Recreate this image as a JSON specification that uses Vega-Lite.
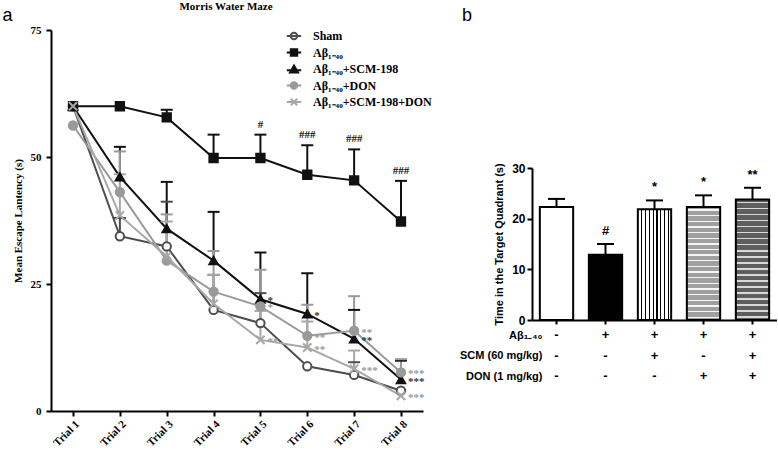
{
  "$schema": "https://vega.github.io/schema/vega-lite/v6.json",
  "padding": {"left": 2, "top": 1, "right": 0, "bottom": 0},
  "config": {
    "view": {"stroke": null},
    "axis": {"grid": false, "domainColor": "#000", "domainWidth": 2, "tickColor": "#000", "tickWidth": 2, "labelColor": "#000", "titleColor": "#000"}
  },
  "spacing": 27,
  "hconcat": [
    {
      "width": 372,
      "height": 381,
      "title": {"text": "Morris Water Maze", "font": "Liberation Serif", "fontSize": 11, "fontWeight": "bold", "anchor": "middle", "offset": -6, "dx": -11},
      "data": {
        "values": [
          {"group": "Sham", "trial": "Trial 1", "mean": 60, "upper": null, "sig": null},
          {"group": "Sham", "trial": "Trial 2", "mean": 34.4, "upper": 38.0, "sig": null},
          {"group": "Sham", "trial": "Trial 3", "mean": 32.4, "upper": 41.2, "sig": null},
          {"group": "Sham", "trial": "Trial 4", "mean": 19.9, "upper": 26.8, "sig": null},
          {"group": "Sham", "trial": "Trial 5", "mean": 17.3, "upper": 23.2, "sig": null},
          {"group": "Sham", "trial": "Trial 6", "mean": 8.8, "upper": null, "sig": null},
          {"group": "Sham", "trial": "Trial 7", "mean": 7.1, "upper": 9.6, "sig": null},
          {"group": "Sham", "trial": "Trial 8", "mean": 4.0, "upper": null, "sig": null},
          {"group": "Aβ₁₋₄₀", "trial": "Trial 1", "mean": 60, "upper": null, "sig": null},
          {"group": "Aβ₁₋₄₀", "trial": "Trial 2", "mean": 60, "upper": null, "sig": null},
          {"group": "Aβ₁₋₄₀", "trial": "Trial 3", "mean": 57.8, "upper": 59.3, "sig": null},
          {"group": "Aβ₁₋₄₀", "trial": "Trial 4", "mean": 49.8, "upper": 54.4, "sig": null},
          {"group": "Aβ₁₋₄₀", "trial": "Trial 5", "mean": 49.8, "upper": 54.4, "sig": "#"},
          {"group": "Aβ₁₋₄₀", "trial": "Trial 6", "mean": 46.5, "upper": 52.3, "sig": "###"},
          {"group": "Aβ₁₋₄₀", "trial": "Trial 7", "mean": 45.4, "upper": 51.5, "sig": "###"},
          {"group": "Aβ₁₋₄₀", "trial": "Trial 8", "mean": 37.3, "upper": 45.3, "sig": "###"},
          {"group": "Aβ₁₋₄₀+SCM-198", "trial": "Trial 1", "mean": 60, "upper": null, "sig": null},
          {"group": "Aβ₁₋₄₀+SCM-198", "trial": "Trial 2", "mean": 46.1, "upper": 52.0, "sig": null},
          {"group": "Aβ₁₋₄₀+SCM-198", "trial": "Trial 3", "mean": 35.9, "upper": 45.1, "sig": null},
          {"group": "Aβ₁₋₄₀+SCM-198", "trial": "Trial 4", "mean": 29.6, "upper": 39.2, "sig": null},
          {"group": "Aβ₁₋₄₀+SCM-198", "trial": "Trial 5", "mean": 22.0, "upper": 31.2, "sig": "*"},
          {"group": "Aβ₁₋₄₀+SCM-198", "trial": "Trial 6", "mean": 19.1, "upper": 27.1, "sig": "*"},
          {"group": "Aβ₁₋₄₀+SCM-198", "trial": "Trial 7", "mean": 14.2, "upper": 19.9, "sig": "**"},
          {"group": "Aβ₁₋₄₀+SCM-198", "trial": "Trial 8", "mean": 6.2, "upper": 9.9, "sig": "***"},
          {"group": "Aβ₁₋₄₀+DON", "trial": "Trial 1", "mean": 56.2, "upper": null, "sig": null},
          {"group": "Aβ₁₋₄₀+DON", "trial": "Trial 2", "mean": 43.1, "upper": 51.1, "sig": null},
          {"group": "Aβ₁₋₄₀+DON", "trial": "Trial 3", "mean": 29.6, "upper": 38.7, "sig": null},
          {"group": "Aβ₁₋₄₀+DON", "trial": "Trial 4", "mean": 23.5, "upper": 31.5, "sig": null},
          {"group": "Aβ₁₋₄₀+DON", "trial": "Trial 5", "mean": 20.6, "upper": 27.8, "sig": "*"},
          {"group": "Aβ₁₋₄₀+DON", "trial": "Trial 6", "mean": 14.8, "upper": 20.9, "sig": "**"},
          {"group": "Aβ₁₋₄₀+DON", "trial": "Trial 7", "mean": 15.8, "upper": 22.6, "sig": "**"},
          {"group": "Aβ₁₋₄₀+DON", "trial": "Trial 8", "mean": 7.6, "upper": 10.2, "sig": "***"},
          {"group": "Aβ₁₋₄₀+SCM-198+DON", "trial": "Trial 1", "mean": 60, "upper": null, "sig": null},
          {"group": "Aβ₁₋₄₀+SCM-198+DON", "trial": "Trial 2", "mean": 38.5, "upper": 46.6, "sig": null},
          {"group": "Aβ₁₋₄₀+SCM-198+DON", "trial": "Trial 3", "mean": 30.4, "upper": 37.3, "sig": null},
          {"group": "Aβ₁₋₄₀+SCM-198+DON", "trial": "Trial 4", "mean": 21.1, "upper": 26.8, "sig": null},
          {"group": "Aβ₁₋₄₀+SCM-198+DON", "trial": "Trial 5", "mean": 14.0, "upper": 19.7, "sig": "**"},
          {"group": "Aβ₁₋₄₀+SCM-198+DON", "trial": "Trial 6", "mean": 12.5, "upper": 17.6, "sig": "**"},
          {"group": "Aβ₁₋₄₀+SCM-198+DON", "trial": "Trial 7", "mean": 8.3, "upper": 11.9, "sig": "***"},
          {"group": "Aβ₁₋₄₀+SCM-198+DON", "trial": "Trial 8", "mean": 3.0, "upper": null, "sig": "***"}
        ]
      },
      "resolve": {"scale": {"shape": "independent", "fill": "independent", "stroke": "independent"}, "axis": {"x": "independent"}},
      "layer": [
        {
          "mark": {"type": "line", "strokeWidth": 2},
          "encoding": {
            "x": {"field": "trial", "type": "ordinal", "scale": {"type": "point", "padding": 0.47},
              "axis": {"title": null, "labelAngle": -45, "labelFont": "Liberation Serif", "labelFontSize": 11, "labelFontWeight": "bold", "tickSize": 5, "labelPadding": 2}},
            "y": {"field": "mean", "type": "quantitative", "scale": {"domain": [0, 75], "nice": false},
              "axis": {"values": [0, 25, 50, 75], "title": "Mean Escape Lantency (s)", "titleFont": "Liberation Serif", "titleFontSize": 11, "titleFontWeight": "bold", "labelFont": "Liberation Serif", "labelFontSize": 11, "labelFontWeight": "bold", "tickSize": 5, "labelPadding": 5, "titlePadding": 7}},
            "color": {"field": "group", "type": "nominal",
              "scale": {"domain": ["Sham", "Aβ₁₋₄₀", "Aβ₁₋₄₀+SCM-198", "Aβ₁₋₄₀+DON", "Aβ₁₋₄₀+SCM-198+DON"], "range": ["#4d4d4d", "#111111", "#111111", "#9a9a9a", "#a8a8a8"]},
              "legend": null}
          }
        },
        {
          "transform": [{"filter": "datum.upper != null"}],
          "mark": {"type": "rule", "strokeWidth": 2},
          "encoding": {
            "x": {"field": "trial", "type": "ordinal", "axis": null},
            "y": {"field": "mean", "type": "quantitative"},
            "y2": {"field": "upper"},
            "color": {"field": "group", "type": "nominal", "legend": null}
          }
        },
        {
          "transform": [{"filter": "datum.upper != null"}],
          "mark": {"type": "tick", "thickness": 2, "size": 12, "opacity": 1},
          "encoding": {
            "x": {"field": "trial", "type": "ordinal", "axis": null},
            "y": {"field": "upper", "type": "quantitative"},
            "color": {"field": "group", "type": "nominal", "legend": null}
          }
        },
        {
          "mark": {"type": "point", "size": 70, "strokeWidth": 2, "opacity": 1},
          "encoding": {
            "x": {"field": "trial", "type": "ordinal", "axis": null},
            "y": {"field": "mean", "type": "quantitative"},
            "shape": {"field": "group", "type": "nominal", "legend": null,
              "scale": {"domain": ["Sham", "Aβ₁₋₄₀", "Aβ₁₋₄₀+SCM-198", "Aβ₁₋₄₀+DON", "Aβ₁₋₄₀+SCM-198+DON"], "range": ["circle", "square", "triangle-up", "circle", "M-1,-1L1,1M-1,1L1,-1"]}},
            "fill": {"field": "group", "type": "nominal", "legend": null,
              "scale": {"domain": ["Sham", "Aβ₁₋₄₀", "Aβ₁₋₄₀+SCM-198", "Aβ₁₋₄₀+DON", "Aβ₁₋₄₀+SCM-198+DON"], "range": ["#ffffff", "#111111", "#111111", "#9a9a9a", "#a8a8a8"]}},
            "stroke": {"field": "group", "type": "nominal", "legend": null,
              "scale": {"domain": ["Sham", "Aβ₁₋₄₀", "Aβ₁₋₄₀+SCM-198", "Aβ₁₋₄₀+DON", "Aβ₁₋₄₀+SCM-198+DON"], "range": ["#4d4d4d", "#111111", "#111111", "#9a9a9a", "#a8a8a8"]}}
          }
        },
        {
          "transform": [{"filter": "datum.sig != null && datum.group == 'Aβ₁₋₄₀+SCM-198'"}],
          "mark": {"type": "text", "align": "left", "baseline": "middle", "dx": 7, "dy": 2, "font": "Liberation Serif", "fontSize": 11, "fontWeight": "bold", "fill": "#333333"},
          "encoding": {
            "x": {"field": "trial", "type": "ordinal", "axis": null},
            "y": {"field": "mean", "type": "quantitative"},
            "text": {"field": "sig"}
          }
        },
        {
          "transform": [{"filter": "datum.sig != null && (datum.group == 'Aβ₁₋₄₀+DON' || datum.group == 'Aβ₁₋₄₀+SCM-198+DON')"}],
          "mark": {"type": "text", "align": "left", "baseline": "middle", "dx": 7, "dy": 2, "font": "Liberation Serif", "fontSize": 11, "fontWeight": "bold", "fill": "#999999"},
          "encoding": {
            "x": {"field": "trial", "type": "ordinal", "axis": null},
            "y": {"field": "mean", "type": "quantitative"},
            "text": {"field": "sig"}
          }
        },
        {
          "transform": [{"filter": "datum.sig != null && datum.group == 'Aβ₁₋₄₀'"}],
          "mark": {"type": "text", "align": "center", "baseline": "alphabetic", "dy": -7, "font": "Liberation Serif", "fontSize": 11, "fontWeight": "bold", "fill": "#111111"},
          "encoding": {
            "x": {"field": "trial", "type": "ordinal", "axis": null},
            "y": {"field": "upper", "type": "quantitative"},
            "text": {"field": "sig"}
          }
        },
        {
          "transform": [{"filter": "false"}],
          "mark": {"type": "point", "size": 64, "strokeWidth": 2, "opacity": 1},
          "encoding": {
            "x": {"field": "trial", "type": "ordinal",
              "axis": {"orient": "top", "labels": false, "ticks": false, "domain": false, "title": "a", "titleAnchor": "start", "titleAlign": "left", "titleBaseline": "alphabetic", "titleX": -49, "titleY": -10, "titleFont": "Liberation Sans", "titleFontSize": 18, "titleFontWeight": "normal"}},
            "y": {"field": "mean", "type": "quantitative"},
            "shape": {"field": "group", "type": "nominal",
              "scale": {"domain": ["Sham", "Aβ₁₋₄₀", "Aβ₁₋₄₀+SCM-198", "Aβ₁₋₄₀+DON", "Aβ₁₋₄₀+SCM-198+DON"],
                "range": [
                  "M-1.8,0L1.8,0M-0.8,0A0.8,0.8,0,1,1,0.8,0A0.8,0.8,0,1,1,-0.8,0",
                  "M-1.8,0L1.8,0M-0.8,-0.8L0.8,-0.8L0.8,0.8L-0.8,0.8Z",
                  "M-1.8,0.3L1.8,0.3M-1,0.85L0,-0.9L1,0.85Z",
                  "M-1.8,0L1.8,0M-0.8,0A0.8,0.8,0,1,1,0.8,0A0.8,0.8,0,1,1,-0.8,0",
                  "M-1.8,0L1.8,0M-0.8,-0.8L0.8,0.8M-0.8,0.8L0.8,-0.8"
                ]},
              "legend": {"title": null, "orient": "none", "legendX": 237, "legendY": 0, "padding": 0, "rowPadding": 0.5, "labelOffset": 13, "symbolSize": 64, "symbolStrokeWidth": 2, "labelFont": "Liberation Serif", "labelFontSize": 12, "labelFontWeight": "bold", "labelColor": "#000"}},
            "fill": {"field": "group", "type": "nominal",
              "scale": {"domain": ["Sham", "Aβ₁₋₄₀", "Aβ₁₋₄₀+SCM-198", "Aβ₁₋₄₀+DON", "Aβ₁₋₄₀+SCM-198+DON"], "range": ["#ffffff", "#111111", "#111111", "#9a9a9a", "#a8a8a8"]},
              "legend": {"title": null, "orient": "none", "legendX": 237, "legendY": 0, "padding": 0, "rowPadding": 0.5, "labelOffset": 13, "symbolSize": 64, "symbolStrokeWidth": 2, "labelFont": "Liberation Serif", "labelFontSize": 12, "labelFontWeight": "bold", "labelColor": "#000"}},
            "stroke": {"field": "group", "type": "nominal",
              "scale": {"domain": ["Sham", "Aβ₁₋₄₀", "Aβ₁₋₄₀+SCM-198", "Aβ₁₋₄₀+DON", "Aβ₁₋₄₀+SCM-198+DON"], "range": ["#4d4d4d", "#111111", "#111111", "#9a9a9a", "#a8a8a8"]},
              "legend": {"title": null, "orient": "none", "legendX": 237, "legendY": 0, "padding": 0, "rowPadding": 0.5, "labelOffset": 13, "symbolSize": 64, "symbolStrokeWidth": 2, "labelFont": "Liberation Serif", "labelFontSize": 12, "labelFontWeight": "bold", "labelColor": "#000"}}
          }
        }
      ]
    },
    {
      "spacing": 3,
      "vconcat": [
        {
          "width": 245,
          "height": 129,
          "title": {"text": "b", "anchor": "start", "font": "Liberation Sans", "fontSize": 18, "fontWeight": "normal", "offset": 5, "dx": -70},
          "data": {"values": []},
          "mark": {"type": "point"},
          "encoding": {}
        },
        {
          "width": 245,
          "height": 152,
          "data": {
            "values": [
              {"grp": "1", "value": 22.3, "upper": 23.9, "sig": ""},
              {"grp": "2", "value": 12.9, "upper": 15.0, "sig": "#"},
              {"grp": "3", "value": 21.85, "upper": 23.6, "sig": "*"},
              {"grp": "4", "value": 22.3, "upper": 24.6, "sig": "*"},
              {"grp": "5", "value": 23.8, "upper": 26.1, "sig": "**"}
            ]
          },
          "layer": [
            {
              "transform": [{"filter": "datum.grp == '1' || datum.grp == '2'"}],
              "mark": {"type": "bar", "stroke": "#000", "strokeWidth": 2},
              "encoding": {
                "x": {"field": "grp", "type": "nominal", "scale": {"domain": ["1", "2", "3", "4", "5"], "paddingInner": 0.32, "paddingOuter": 0.16},
                  "axis": {"title": null, "labels": false, "tickSize": 4}},
                "y": {"field": "value", "type": "quantitative", "scale": {"domain": [0, 30], "nice": false},
                  "axis": {"values": [0, 10, 20, 30], "title": "Time in the Target Quadrant (s)", "titleFont": "Liberation Sans", "titleFontSize": 11, "titleFontWeight": "bold", "labelFont": "Liberation Sans", "labelFontSize": 12, "labelFontWeight": "bold", "tickSize": 5, "labelPadding": 2, "titlePadding": 7}},
                "fill": {"field": "grp", "type": "nominal", "scale": {"domain": ["1", "2"], "range": ["#ffffff", "#000000"]}, "legend": null}
              }
            },
            {
              "transform": [{"filter": "datum.grp == '3'"}],
              "mark": {"type": "bar", "stroke": "#000", "strokeWidth": 2,
                "fill": {"gradient": "linear", "x1": 0, "y1": 0, "x2": 1, "y2": 0, "stops": [
                  {"offset": 0, "color": "#ffffff"},
                  {"offset": 0.1, "color": "#ffffff"}, {"offset": 0.1, "color": "#000000"}, {"offset": 0.135, "color": "#000000"}, {"offset": 0.135, "color": "#ffffff"},
                  {"offset": 0.215, "color": "#ffffff"}, {"offset": 0.215, "color": "#000000"}, {"offset": 0.25, "color": "#000000"}, {"offset": 0.25, "color": "#ffffff"},
                  {"offset": 0.33, "color": "#ffffff"}, {"offset": 0.33, "color": "#000000"}, {"offset": 0.365, "color": "#000000"}, {"offset": 0.365, "color": "#ffffff"},
                  {"offset": 0.445, "color": "#ffffff"}, {"offset": 0.445, "color": "#000000"}, {"offset": 0.48, "color": "#000000"}, {"offset": 0.48, "color": "#ffffff"},
                  {"offset": 0.56, "color": "#ffffff"}, {"offset": 0.56, "color": "#000000"}, {"offset": 0.595, "color": "#000000"}, {"offset": 0.595, "color": "#ffffff"},
                  {"offset": 0.675, "color": "#ffffff"}, {"offset": 0.675, "color": "#000000"}, {"offset": 0.71, "color": "#000000"}, {"offset": 0.71, "color": "#ffffff"},
                  {"offset": 0.79, "color": "#ffffff"}, {"offset": 0.79, "color": "#000000"}, {"offset": 0.825, "color": "#000000"}, {"offset": 0.825, "color": "#ffffff"},
                  {"offset": 0.905, "color": "#ffffff"}, {"offset": 0.905, "color": "#000000"}, {"offset": 0.94, "color": "#000000"}, {"offset": 0.94, "color": "#ffffff"},
                  {"offset": 1, "color": "#ffffff"}
                ]}},
              "encoding": {
                "x": {"field": "grp", "type": "nominal"},
                "y": {"field": "value", "type": "quantitative"}
              }
            },
            {
              "transform": [{"filter": "datum.grp == '4'"}],
              "mark": {"type": "bar", "stroke": "#000", "strokeWidth": 2,
                "fill": {"gradient": "linear", "x1": 0, "y1": 0, "x2": 0, "y2": 1, "stops": [
                  {"offset": 0, "color": "#a0a0a0"},
                  {"offset": 0.02, "color": "#a0a0a0"}, {"offset": 0.02, "color": "#f5f5f5"}, {"offset": 0.032, "color": "#f5f5f5"}, {"offset": 0.032, "color": "#a0a0a0"},
                  {"offset": 0.07, "color": "#a0a0a0"}, {"offset": 0.07, "color": "#f5f5f5"}, {"offset": 0.082, "color": "#f5f5f5"}, {"offset": 0.082, "color": "#a0a0a0"},
                  {"offset": 0.12, "color": "#a0a0a0"}, {"offset": 0.12, "color": "#f5f5f5"}, {"offset": 0.132, "color": "#f5f5f5"}, {"offset": 0.132, "color": "#a0a0a0"},
                  {"offset": 0.17, "color": "#a0a0a0"}, {"offset": 0.17, "color": "#f5f5f5"}, {"offset": 0.182, "color": "#f5f5f5"}, {"offset": 0.182, "color": "#a0a0a0"},
                  {"offset": 0.22, "color": "#a0a0a0"}, {"offset": 0.22, "color": "#f5f5f5"}, {"offset": 0.232, "color": "#f5f5f5"}, {"offset": 0.232, "color": "#a0a0a0"},
                  {"offset": 0.27, "color": "#a0a0a0"}, {"offset": 0.27, "color": "#f5f5f5"}, {"offset": 0.282, "color": "#f5f5f5"}, {"offset": 0.282, "color": "#a0a0a0"},
                  {"offset": 0.32, "color": "#a0a0a0"}, {"offset": 0.32, "color": "#f5f5f5"}, {"offset": 0.332, "color": "#f5f5f5"}, {"offset": 0.332, "color": "#a0a0a0"},
                  {"offset": 0.37, "color": "#a0a0a0"}, {"offset": 0.37, "color": "#f5f5f5"}, {"offset": 0.382, "color": "#f5f5f5"}, {"offset": 0.382, "color": "#a0a0a0"},
                  {"offset": 0.42, "color": "#a0a0a0"}, {"offset": 0.42, "color": "#f5f5f5"}, {"offset": 0.432, "color": "#f5f5f5"}, {"offset": 0.432, "color": "#a0a0a0"},
                  {"offset": 0.47, "color": "#a0a0a0"}, {"offset": 0.47, "color": "#f5f5f5"}, {"offset": 0.482, "color": "#f5f5f5"}, {"offset": 0.482, "color": "#a0a0a0"},
                  {"offset": 0.52, "color": "#a0a0a0"}, {"offset": 0.52, "color": "#f5f5f5"}, {"offset": 0.532, "color": "#f5f5f5"}, {"offset": 0.532, "color": "#a0a0a0"},
                  {"offset": 0.57, "color": "#a0a0a0"}, {"offset": 0.57, "color": "#f5f5f5"}, {"offset": 0.582, "color": "#f5f5f5"}, {"offset": 0.582, "color": "#a0a0a0"},
                  {"offset": 0.62, "color": "#a0a0a0"}, {"offset": 0.62, "color": "#f5f5f5"}, {"offset": 0.632, "color": "#f5f5f5"}, {"offset": 0.632, "color": "#a0a0a0"},
                  {"offset": 0.67, "color": "#a0a0a0"}, {"offset": 0.67, "color": "#f5f5f5"}, {"offset": 0.682, "color": "#f5f5f5"}, {"offset": 0.682, "color": "#a0a0a0"},
                  {"offset": 0.72, "color": "#a0a0a0"}, {"offset": 0.72, "color": "#f5f5f5"}, {"offset": 0.732, "color": "#f5f5f5"}, {"offset": 0.732, "color": "#a0a0a0"},
                  {"offset": 0.77, "color": "#a0a0a0"}, {"offset": 0.77, "color": "#f5f5f5"}, {"offset": 0.782, "color": "#f5f5f5"}, {"offset": 0.782, "color": "#a0a0a0"},
                  {"offset": 0.82, "color": "#a0a0a0"}, {"offset": 0.82, "color": "#f5f5f5"}, {"offset": 0.832, "color": "#f5f5f5"}, {"offset": 0.832, "color": "#a0a0a0"},
                  {"offset": 0.87, "color": "#a0a0a0"}, {"offset": 0.87, "color": "#f5f5f5"}, {"offset": 0.882, "color": "#f5f5f5"}, {"offset": 0.882, "color": "#a0a0a0"},
                  {"offset": 0.92, "color": "#a0a0a0"}, {"offset": 0.92, "color": "#f5f5f5"}, {"offset": 0.932, "color": "#f5f5f5"}, {"offset": 0.932, "color": "#a0a0a0"},
                  {"offset": 0.97, "color": "#a0a0a0"}, {"offset": 0.97, "color": "#f5f5f5"}, {"offset": 0.982, "color": "#f5f5f5"}, {"offset": 0.982, "color": "#a0a0a0"},
                  {"offset": 1, "color": "#a0a0a0"}
                ]}},
              "encoding": {
                "x": {"field": "grp", "type": "nominal"},
                "y": {"field": "value", "type": "quantitative"}
              }
            },
            {
              "transform": [{"filter": "datum.grp == '5'"}],
              "mark": {"type": "bar", "stroke": "#000", "strokeWidth": 2,
                "fill": {"gradient": "linear", "x1": 0, "y1": 0, "x2": 0, "y2": 1, "stops": [
                  {"offset": 0, "color": "#5e5e5e"},
                  {"offset": 0.02, "color": "#5e5e5e"}, {"offset": 0.02, "color": "#d8d8d8"}, {"offset": 0.032, "color": "#d8d8d8"}, {"offset": 0.032, "color": "#5e5e5e"},
                  {"offset": 0.07, "color": "#5e5e5e"}, {"offset": 0.07, "color": "#d8d8d8"}, {"offset": 0.082, "color": "#d8d8d8"}, {"offset": 0.082, "color": "#5e5e5e"},
                  {"offset": 0.12, "color": "#5e5e5e"}, {"offset": 0.12, "color": "#d8d8d8"}, {"offset": 0.132, "color": "#d8d8d8"}, {"offset": 0.132, "color": "#5e5e5e"},
                  {"offset": 0.17, "color": "#5e5e5e"}, {"offset": 0.17, "color": "#d8d8d8"}, {"offset": 0.182, "color": "#d8d8d8"}, {"offset": 0.182, "color": "#5e5e5e"},
                  {"offset": 0.22, "color": "#5e5e5e"}, {"offset": 0.22, "color": "#d8d8d8"}, {"offset": 0.232, "color": "#d8d8d8"}, {"offset": 0.232, "color": "#5e5e5e"},
                  {"offset": 0.27, "color": "#5e5e5e"}, {"offset": 0.27, "color": "#d8d8d8"}, {"offset": 0.282, "color": "#d8d8d8"}, {"offset": 0.282, "color": "#5e5e5e"},
                  {"offset": 0.32, "color": "#5e5e5e"}, {"offset": 0.32, "color": "#d8d8d8"}, {"offset": 0.332, "color": "#d8d8d8"}, {"offset": 0.332, "color": "#5e5e5e"},
                  {"offset": 0.37, "color": "#5e5e5e"}, {"offset": 0.37, "color": "#d8d8d8"}, {"offset": 0.382, "color": "#d8d8d8"}, {"offset": 0.382, "color": "#5e5e5e"},
                  {"offset": 0.42, "color": "#5e5e5e"}, {"offset": 0.42, "color": "#d8d8d8"}, {"offset": 0.432, "color": "#d8d8d8"}, {"offset": 0.432, "color": "#5e5e5e"},
                  {"offset": 0.47, "color": "#5e5e5e"}, {"offset": 0.47, "color": "#d8d8d8"}, {"offset": 0.482, "color": "#d8d8d8"}, {"offset": 0.482, "color": "#5e5e5e"},
                  {"offset": 0.52, "color": "#5e5e5e"}, {"offset": 0.52, "color": "#d8d8d8"}, {"offset": 0.532, "color": "#d8d8d8"}, {"offset": 0.532, "color": "#5e5e5e"},
                  {"offset": 0.57, "color": "#5e5e5e"}, {"offset": 0.57, "color": "#d8d8d8"}, {"offset": 0.582, "color": "#d8d8d8"}, {"offset": 0.582, "color": "#5e5e5e"},
                  {"offset": 0.62, "color": "#5e5e5e"}, {"offset": 0.62, "color": "#d8d8d8"}, {"offset": 0.632, "color": "#d8d8d8"}, {"offset": 0.632, "color": "#5e5e5e"},
                  {"offset": 0.67, "color": "#5e5e5e"}, {"offset": 0.67, "color": "#d8d8d8"}, {"offset": 0.682, "color": "#d8d8d8"}, {"offset": 0.682, "color": "#5e5e5e"},
                  {"offset": 0.72, "color": "#5e5e5e"}, {"offset": 0.72, "color": "#d8d8d8"}, {"offset": 0.732, "color": "#d8d8d8"}, {"offset": 0.732, "color": "#5e5e5e"},
                  {"offset": 0.77, "color": "#5e5e5e"}, {"offset": 0.77, "color": "#d8d8d8"}, {"offset": 0.782, "color": "#d8d8d8"}, {"offset": 0.782, "color": "#5e5e5e"},
                  {"offset": 0.82, "color": "#5e5e5e"}, {"offset": 0.82, "color": "#d8d8d8"}, {"offset": 0.832, "color": "#d8d8d8"}, {"offset": 0.832, "color": "#5e5e5e"},
                  {"offset": 0.87, "color": "#5e5e5e"}, {"offset": 0.87, "color": "#d8d8d8"}, {"offset": 0.882, "color": "#d8d8d8"}, {"offset": 0.882, "color": "#5e5e5e"},
                  {"offset": 0.92, "color": "#5e5e5e"}, {"offset": 0.92, "color": "#d8d8d8"}, {"offset": 0.932, "color": "#d8d8d8"}, {"offset": 0.932, "color": "#5e5e5e"},
                  {"offset": 0.97, "color": "#5e5e5e"}, {"offset": 0.97, "color": "#d8d8d8"}, {"offset": 0.982, "color": "#d8d8d8"}, {"offset": 0.982, "color": "#5e5e5e"},
                  {"offset": 1, "color": "#5e5e5e"}
                ]}},
              "encoding": {
                "x": {"field": "grp", "type": "nominal"},
                "y": {"field": "value", "type": "quantitative"}
              }
            },
            {
              "mark": {"type": "rule", "strokeWidth": 2, "color": "#000"},
              "encoding": {
                "x": {"field": "grp", "type": "nominal"},
                "y": {"field": "value", "type": "quantitative"},
                "y2": {"field": "upper"}
              }
            },
            {
              "mark": {"type": "tick", "thickness": 2, "size": 17, "color": "#000", "opacity": 1},
              "encoding": {
                "x": {"field": "grp", "type": "nominal"},
                "y": {"field": "upper", "type": "quantitative"}
              }
            },
            {
              "mark": {"type": "text", "baseline": "alphabetic", "dy": -9, "font": "Liberation Sans", "fontSize": 13, "fontWeight": "bold", "fill": "#000"},
              "encoding": {
                "x": {"field": "grp", "type": "nominal"},
                "y": {"field": "upper", "type": "quantitative"},
                "text": {"field": "sig"}
              }
            }
          ]
        },
        {
          "width": 245,
          "height": 41,
          "data": {
            "values": [
              {"grp": "1", "row": "Aβ₁₋₄₀", "sign": "-"},
              {"grp": "2", "row": "Aβ₁₋₄₀", "sign": "+"},
              {"grp": "3", "row": "Aβ₁₋₄₀", "sign": "+"},
              {"grp": "4", "row": "Aβ₁₋₄₀", "sign": "+"},
              {"grp": "5", "row": "Aβ₁₋₄₀", "sign": "+"},
              {"grp": "1", "row": "SCM (60 mg/kg)", "sign": "-"},
              {"grp": "2", "row": "SCM (60 mg/kg)", "sign": "-"},
              {"grp": "3", "row": "SCM (60 mg/kg)", "sign": "+"},
              {"grp": "4", "row": "SCM (60 mg/kg)", "sign": "-"},
              {"grp": "5", "row": "SCM (60 mg/kg)", "sign": "+"},
              {"grp": "1", "row": "DON (1 mg/kg)", "sign": "-"},
              {"grp": "2", "row": "DON (1 mg/kg)", "sign": "-"},
              {"grp": "3", "row": "DON (1 mg/kg)", "sign": "-"},
              {"grp": "4", "row": "DON (1 mg/kg)", "sign": "+"},
              {"grp": "5", "row": "DON (1 mg/kg)", "sign": "+"}
            ]
          },
          "mark": {"type": "text", "font": "Liberation Sans", "fontSize": 13, "fontWeight": "bold", "fill": "#000"},
          "encoding": {
            "x": {"field": "grp", "type": "nominal", "scale": {"domain": ["1", "2", "3", "4", "5"], "paddingInner": 0.32, "paddingOuter": 0.16}, "axis": null},
            "y": {"field": "row", "type": "nominal", "sort": ["Aβ₁₋₄₀", "SCM (60 mg/kg)", "DON (1 mg/kg)"], "scale": {"type": "point", "padding": 0},
              "axis": {"title": null, "domain": false, "ticks": false, "labelFont": "Liberation Sans", "labelFontSize": 11, "labelFontWeight": "bold", "labelPadding": -10}},
            "text": {"field": "sign"}
          }
        }
      ]
    }
  ]
}
